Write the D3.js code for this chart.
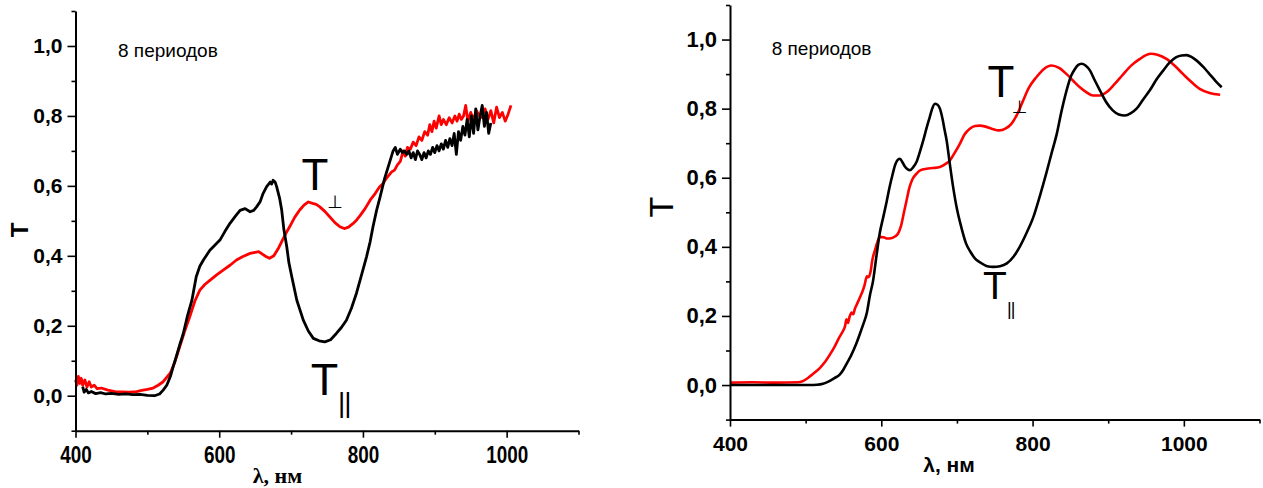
<!DOCTYPE html>
<html>
<head>
<meta charset="utf-8">
<script src="https://cdn.jsdelivr.net/npm/d3@7"></script>
<style>
  body { margin: 0; background: #fff; }
</style>
</head>
<body>
<div id="container"></div>
<script>
// values, [wavelength nm, T]
let leftPar = [
  [410,0.026],[412,0.01],[415,0.018],[418,0.008],[422,0.012],[428,0.006],[435,0.009],[442,0.005],
  [450,0.007],[460,0.004],[470,0.005],[480,0.003],[490,0.004],[500,0.001],[510,0.0],[517,0.005],
  [522,0.016],[527,0.03],[532,0.055],[536,0.083],[540,0.11],[545,0.145],[550,0.178],[556,0.23],
  [562,0.273],[568,0.34],[573,0.37],[578,0.388],[587,0.416],[601,0.445],[608,0.47],[615,0.493],
  [622,0.512],[629,0.53],[636,0.535],[643,0.526],[648,0.53],[652,0.54],[657,0.555],[661,0.578],
  [666,0.598],[671,0.611],[673,0.605],[675,0.616],[678,0.61],[680,0.597],[684,0.565],[687,0.53],
  [690,0.475],[694,0.426],[697,0.38],[701,0.34],[708,0.273],[717,0.216],[724,0.185],[731,0.164],
  [739,0.157],[747,0.154],[755,0.16],[763,0.178],[770,0.195],[777,0.216],[784,0.25],[791,0.293],
  [798,0.345],[805,0.397],[810,0.44],[814,0.483],[819,0.53],[824,0.569],[830,0.62],[836,0.66],
  [842,0.70],[845,0.71],[848,0.69],[852,0.705],[855,0.695],[858,0.70],[861,0.69],[864,0.70],
  [867,0.68],[870,0.695],[873,0.675],[876,0.70],[879,0.69],[882,0.675],[885,0.695],[888,0.68],
  [891,0.70],[894,0.69],[897,0.71],[900,0.695],[903,0.715],[906,0.70],[909,0.72],[912,0.705],
  [915,0.73],[918,0.71],[921,0.735],[924,0.715],[927,0.75],[930,0.69],[933,0.755],[936,0.73],
  [939,0.77],[942,0.745],[945,0.79],[948,0.74],[951,0.80],[954,0.75],[957,0.82],[960,0.76],
  [963,0.80],[966,0.83],[969,0.77],[972,0.81],[975,0.75],[978,0.78]
];
let leftPerp = [
  [400,0.045],[402,0.03],[404,0.055],[406,0.035],[408,0.05],[410,0.03],[413,0.045],[416,0.025],
  [419,0.04],[422,0.025],[426,0.03],[430,0.02],[436,0.022],[445,0.016],[455,0.012],[465,0.011],
  [475,0.01],[485,0.012],[492,0.015],[500,0.018],[508,0.022],[515,0.03],[522,0.04],[528,0.055],
  [532,0.065],[538,0.095],[545,0.14],[552,0.185],[559,0.226],[566,0.27],[573,0.302],[580,0.318],
  [587,0.33],[596,0.345],[606,0.36],[615,0.373],[624,0.388],[633,0.398],[643,0.407],[650,0.41],
  [655,0.412],[660,0.405],[665,0.398],[670,0.393],[676,0.40],[682,0.42],[688,0.445],[693,0.465],
  [698,0.483],[705,0.51],[712,0.531],[718,0.545],[724,0.554],[730,0.55],[735,0.547],[740,0.54],
  [747,0.527],[754,0.511],[761,0.495],[768,0.483],[774,0.478],[780,0.482],[786,0.492],[791,0.502],
  [796,0.515],[803,0.535],[810,0.559],[817,0.578],[823,0.597],[828,0.607],[832,0.62],[836,0.63],
  [840,0.64],[844,0.645],[848,0.66],[852,0.67],[856,0.70],[859,0.685],[862,0.71],[866,0.705],
  [870,0.725],[874,0.715],[878,0.74],[882,0.73],[886,0.755],[890,0.745],[893,0.775],[896,0.755],
  [899,0.785],[902,0.765],[906,0.80],[909,0.775],[912,0.79],[916,0.775],[920,0.795],[924,0.78],
  [928,0.80],[931,0.785],[934,0.805],[937,0.79],[940,0.80],[943,0.83],[946,0.785],[950,0.81],
  [954,0.79],[958,0.815],[962,0.80],[966,0.795],[970,0.82],[974,0.79],[978,0.815],[982,0.78],
  [986,0.825],[990,0.795],[994,0.81],[998,0.785],[1002,0.805],[1006,0.83]
];
let rightPar = [
  [400,0],[450,0],[505,0],[515,0.001],[523,0.004],[530,0.01],[538,0.02],[545,0.03],[550,0.045],
  [555,0.065],[560,0.085],[567,0.12],[572,0.15],[576,0.175],[581,0.21],[585,0.26],[589,0.30],
  [594,0.38],[598,0.44],[602.6,0.486],[607,0.53],[611,0.573],[615,0.61],[618,0.635],[621,0.65],
  [624.7,0.655],[628,0.645],[631,0.633],[635,0.624],[638,0.622],[642,0.63],[647,0.648],[651,0.675],
  [655.5,0.708],[660,0.745],[664,0.775],[667,0.798],[671,0.814],[674,0.812],[677.5,0.80],[681,0.77],
  [684,0.735],[686.4,0.708],[690,0.65],[695,0.573],[700,0.51],[706,0.455],[712,0.41],[718,0.385],
  [724,0.366],[730,0.356],[740,0.344],[748,0.342],[757,0.344],[766,0.352],[775,0.372],[783,0.40],
  [792,0.44],[801,0.486],[810,0.55],[818,0.612],[825,0.67],[832,0.727],[838,0.79],[845,0.853],
  [851,0.895],[856,0.915],[860,0.926],[864.7,0.93],[870,0.925],[876,0.91],[882,0.883],[889,0.853],
  [897,0.82],[906,0.795],[914,0.783],[922,0.78],[930,0.787],[937.5,0.80],[946,0.826],[955,0.853],
  [964,0.885],[972.6,0.91],[981,0.933],[990,0.949],[997,0.954],[1003.5,0.955],[1010,0.95],
  [1017,0.939],[1026,0.92],[1034,0.90],[1042,0.88],[1050,0.862]
];
let rightPerp = [
  [400,0.007],[430,0.008],[460,0.007],[490,0.008],[495,0.01],[500,0.016],[505,0.024],[512,0.036],
  [519,0.05],[526,0.068],[532,0.088],[538,0.11],[545,0.14],[549,0.155],[552,0.17],[554,0.19],
  [556,0.18],[558,0.197],[561,0.21],[563,0.205],[565,0.22],[568,0.235],[572,0.255],[575,0.27],
  [578,0.29],[581,0.315],[583,0.312],[586,0.33],[588,0.36],[591.6,0.39],[595,0.415],[598,0.429],
  [603,0.428],[608,0.424],[613,0.425],[618,0.43],[622,0.438],[626,0.46],[630,0.50],[633.5,0.535],
  [637,0.57],[641,0.595],[646.7,0.612],[652,0.622],[659.9,0.626],[668,0.628],[677.5,0.631],
  [685,0.64],[690.7,0.65],[697,0.672],[704,0.699],[710,0.725],[717,0.742],[724,0.75],[730,0.751],
  [738,0.748],[746,0.742],[756,0.737],[764,0.742],[772,0.756],[780,0.785],[787.6,0.824],[795,0.86],
  [805,0.891],[815,0.915],[825,0.925],[835,0.918],[845,0.90],[854,0.88],[862.5,0.862],[871,0.848],
  [880,0.838],[889,0.838],[898,0.848],[908,0.87],[920,0.90],[931,0.926],[942,0.944],[950,0.955],
  [957,0.959],[965,0.956],[977,0.944],[988,0.924],[999,0.90],[1010,0.877],[1021,0.857],
  [1034,0.845],[1048,0.84]
];

let xMajor = [400, 600, 800, 1000];
let xMinor = [500, 700, 900, 1100];
let yMajor = [0, 0.2, 0.4, 0.6, 0.8, 1.0];
let yMinor = [-0.1, 0.1, 0.3, 0.5, 0.7, 0.9, 1.1];
let noteText = "8 периодов";
let xTitle = "λ, нм";

let w = 1263;
let h = 488;
let sans = "'Liberation Sans', Arial, sans-serif";

let viz = d3.select("#container")
  .append("svg")
    .attr("width", w)
    .attr("height", h)
    .style("background-color", "white")
;

function commaFormat(d){
  return d.toFixed(1).replace(".", ",");
}

function drawPanel(p){
  let xScale = d3.scaleLinear().domain([400, 1100]).range([p.left, p.right]);
  let yScale = d3.scaleLinear().domain([-0.1, 1.1]).range([p.bottom, p.top]);
  let g = viz.append("g");

  let line = d3.line()
    .x(function(d){ return xScale(d[0]); })
    .y(function(d){ return yScale(d[1]); })
    .curve(p.curve);

  g.append("path").datum(p.perp)
    .attr("d", line)
    .attr("fill", "none")
    .attr("stroke", "#ff0000")
    .attr("stroke-width", p.lw)
    .attr("stroke-linejoin", "round");

  g.append("path").datum(p.par)
    .attr("d", line)
    .attr("fill", "none")
    .attr("stroke", "#000")
    .attr("stroke-width", p.lw)
    .attr("stroke-linejoin", "round");

  // x axis
  let xg = g.append("g")
    .attr("transform", "translate(0," + p.bottom + ")")
    .call(d3.axisBottom(xScale).tickValues(xMajor).tickSize(7).tickSizeOuter(0).tickPadding(p.xPad).tickFormat(d3.format("d")));
  xg.attr("font-size", p.xFont).attr("font-family", sans).attr("font-weight", "bold");
  xg.select(".domain").attr("stroke-width", 2);
  xg.selectAll(".tick line").attr("stroke-width", 1.6);
  xg.selectAll(".tick text").attr("transform", p.xLabelScale);

  let xm = g.append("g")
    .attr("transform", "translate(0," + p.bottom + ")")
    .call(d3.axisBottom(xScale).tickValues(xMinor).tickSize(4).tickFormat(""));
  xm.select(".domain").remove();
  xm.selectAll(".tick line").attr("stroke-width", 1.6);

  // y axis
  let yg = g.append("g")
    .attr("transform", "translate(" + p.left + ",0)")
    .call(d3.axisLeft(yScale).tickValues(yMajor).tickSize(8).tickSizeOuter(0).tickPadding(5).tickFormat(commaFormat));
  yg.attr("font-size", p.yFont).attr("font-family", sans).attr("font-weight", "bold");
  yg.select(".domain").attr("stroke-width", 2);
  yg.selectAll(".tick line").attr("stroke-width", 1.6);

  let ym = g.append("g")
    .attr("transform", "translate(" + p.left + ",0)")
    .call(d3.axisLeft(yScale).tickValues(yMinor).tickSize(4).tickFormat(""));
  ym.select(".domain").remove();
  ym.selectAll(".tick line").attr("stroke-width", 1.6);

  // texts
  g.append("text")
    .text(noteText)
    .attr("x", p.noteX).attr("y", p.noteY)
    .attr("font-family", sans).attr("font-size", "19px");

  g.append("text")
    .text("T")
    .attr("transform", "translate(" + p.yTitleX + "," + p.yTitleY + ") rotate(-90)")
    .attr("text-anchor", "middle")
    .attr("font-family", sans)
    .attr("font-weight", p.yTitleWeight)
    .attr("font-size", p.yTitleSize);

  g.append("text")
    .text(xTitle)
    .attr("x", p.xTitleX).attr("y", p.xTitleY)
    .attr("text-anchor", "middle")
    .attr("font-family", p.xTitleFamily)
    .attr("font-weight", "bold")
    .attr("font-size", p.xTitleSize);

  // T perp label
  g.append("text").text("T")
    .attr("x", p.perpX).attr("y", p.perpY)
    .attr("text-anchor", "middle")
    .attr("font-family", sans).attr("font-size", p.perpSize);
  g.append("text").text("⊥")
    .attr("x", p.perpSubX).attr("y", p.perpSubY)
    .attr("text-anchor", "middle")
    .attr("font-family", "'DejaVu Sans', sans-serif").attr("font-size", "18px");

  // T parallel label
  g.append("text").text("T")
    .attr("x", p.parX).attr("y", p.parY)
    .attr("text-anchor", "middle")
    .attr("font-family", sans).attr("font-size", p.parSize);
  g.append("text").text("||")
    .attr("x", p.parSubX).attr("y", p.parSubY)
    .attr("letter-spacing", "-1px")
    .attr("font-family", sans).attr("font-size", p.parSubSize);
}

drawPanel({
  left: 75.5, right: 578.5, top: 11, bottom: 430.7,
  par: leftPar, perp: leftPerp, curve: d3.curveLinear, lw: 2.8,
  xFont: "21px", yFont: "21px", xPad: 7.6, xLabelScale: "scale(0.9,1.1)",
  noteX: 118, noteY: 57,
  yTitleX: 28.3, yTitleY: 230, yTitleWeight: "bold", yTitleSize: "24px",
  xTitleX: 277.5, xTitleY: 483, xTitleFamily: "'Liberation Serif', 'Times New Roman', serif", xTitleSize: "22px",
  perpX: 315, perpY: 190, perpSize: "44px", perpSubX: 335, perpSubY: 208,
  parX: 324.5, parY: 395, parSize: "45px", parSubX: 338, parSubY: 412, parSubSize: "28px"
});

drawPanel({
  left: 730, right: 1259.5, top: 5, bottom: 419.6,
  par: rightPar, perp: rightPerp, curve: d3.curveMonotoneX, lw: 2.6,
  xFont: "21px", yFont: "22px", xPad: 9, xLabelScale: null,
  noteX: 771.7, noteY: 55,
  yTitleX: 673, yTitleY: 207, yTitleWeight: "normal", yTitleSize: "34px",
  xTitleX: 949, xTitleY: 472, xTitleFamily: sans, xTitleSize: "21px",
  perpX: 1001, perpY: 96.7, perpSize: "44px", perpSubX: 1019.7, perpSubY: 112.7,
  parX: 995, parY: 299.3, parSize: "39px", parSubX: 1007, parSubY: 314.5, parSubSize: "18px"
});
</script>
</body>
</html>
